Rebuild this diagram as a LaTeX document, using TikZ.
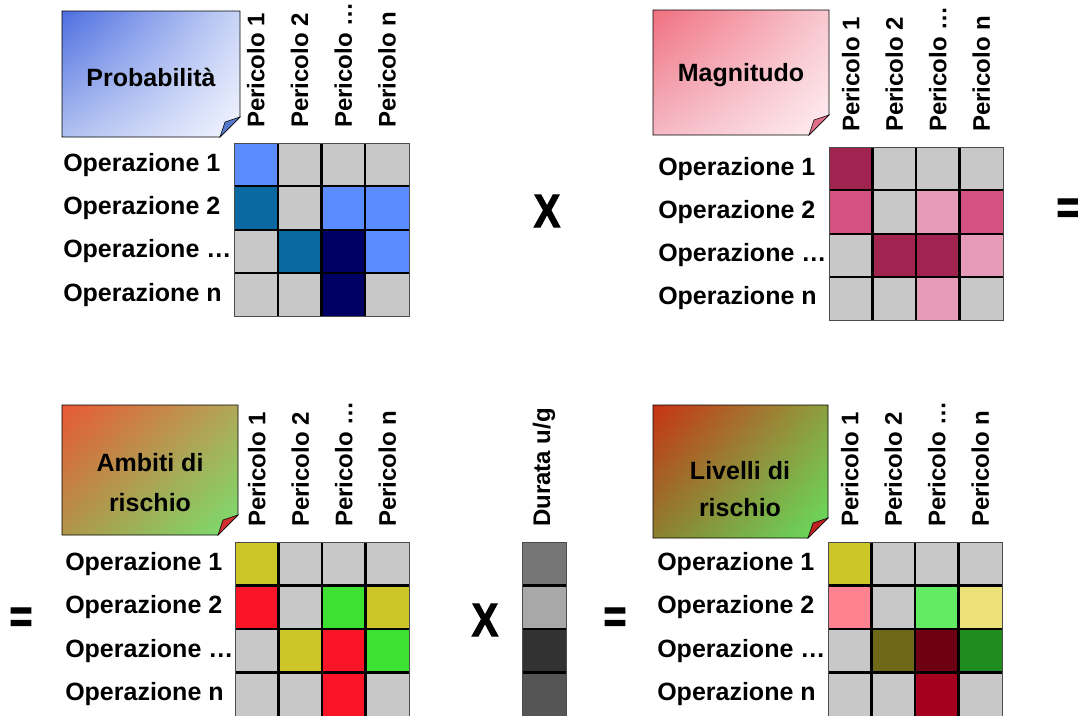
\documentclass[tikz,border=0pt]{standalone}
\usepackage{fontspec}
\setmainfont{Liberation Sans}
\newfontfamily\signfont{Liberation Sans Bold}[FakeBold=2.5]
\usepackage{xcolor}
\usepackage{tikz}
\usetikzlibrary{positioning,shadings}

\definecolor{cellgray}{RGB}{200,200,200}
\definecolor{bluelt}{RGB}{90,140,255}
\definecolor{bluemd}{RGB}{10,105,160}
\definecolor{bluedk}{RGB}{0,0,100}
\definecolor{rosedk}{RGB}{160,35,80}
\definecolor{rosemd}{RGB}{212,82,128}
\definecolor{roselt}{RGB}{230,155,185}
\definecolor{yelrisk}{RGB}{205,198,40}
\definecolor{redrisk}{RGB}{250,20,40}
\definecolor{grnrisk}{RGB}{60,225,50}
\definecolor{pinklv}{RGB}{255,130,145}
\definecolor{grnlt}{RGB}{100,235,100}
\definecolor{yellt}{RGB}{235,225,120}
\definecolor{olivedk}{RGB}{110,105,25}
\definecolor{reddk}{RGB}{110,0,20}
\definecolor{grndk}{RGB}{30,140,30}
\definecolor{redmd}{RGB}{165,0,30}
\definecolor{durA}{RGB}{118,118,118}
\definecolor{durB}{RGB}{168,168,168}
\definecolor{durC}{RGB}{50,50,50}
\definecolor{durD}{RGB}{85,85,85}
% note fills
\definecolor{probUL}{RGB}{77,110,224}
\definecolor{probUR}{RGB}{200,212,246}
\definecolor{probLL}{RGB}{176,192,240}
\definecolor{probLR}{RGB}{244,246,255}
\definecolor{probF}{RGB}{85,119,204}
\definecolor{magnUL}{RGB}{240,112,128}
\definecolor{magnUR}{RGB}{248,200,208}
\definecolor{magnLL}{RGB}{244,184,196}
\definecolor{magnLR}{RGB}{255,240,244}
\definecolor{magnF}{RGB}{224,112,138}
\definecolor{ambUL}{RGB}{232,88,52}
\definecolor{ambUR}{RGB}{176,168,88}
\definecolor{ambLL}{RGB}{176,150,72}
\definecolor{ambLR}{RGB}{120,224,112}
\definecolor{ambF}{RGB}{208,48,48}
\definecolor{livUL}{RGB}{200,50,20}
\definecolor{livUR}{RGB}{140,160,64}
\definecolor{livLL}{RGB}{140,128,48}
\definecolor{livLR}{RGB}{102,224,96}
\definecolor{livF}{RGB}{192,32,32}

\begin{document}
\begin{tikzpicture}[x=0.75pt,y=-0.75pt,
  lbl/.style={font=\bfseries\fontsize{18.75}{22.5}\selectfont, inner sep=0pt},
  oplbl/.style={lbl, anchor=west},
  hdlbl/.style={lbl, font=\bfseries\fontsize{18}{22}\selectfont, rotate=90, anchor=west},
  sign/.style={font=\signfont\fontsize{35}{35}\selectfont, inner sep=0pt, xscale=0.85},
  gridline/.style={line width=1.6pt},
  frame/.style={draw=black!70, line width=0.6pt},
  note/.style={draw=black, line width=0.6pt},
  fold/.style={draw=black, line width=0.4pt}]
  \useasboundingbox (0,0) rectangle (1078,715);

  % Probabilita
  \shade[note, upper left=probUL, upper right=probUR, lower left=probLL, lower right=probLR]
    (62,11) -- (240,11) -- (240,117) -- (220,137) -- (62,137) -- cycle;
  \filldraw[fold, fill=probF] (240,117) -- (220,137) -- (225,122) -- cycle;
  \node[lbl] (prob) at (151,77) {Probabilità};
  \begin{scope}[shift={(234,143)}]
    \foreach \cells [count=\r from 0] in {{bluelt,cellgray,cellgray,cellgray},{bluemd,cellgray,bluelt,bluelt},
        {cellgray,bluemd,bluedk,bluelt},{cellgray,cellgray,bluedk,cellgray}}
      \foreach \c [count=\k from 0] in \cells
        \fill[\c] (\k*43.75,\r*43.4) rectangle ++(43.75,43.4);
    \draw[gridline] \foreach \k in {1,2,3} {(\k*43.75,0) -- ++(0,173.6) (0,\k*43.4) -- ++(175,0)};
    \draw[frame] (0,0) rectangle (175,173.6);
    \foreach \t [count=\r from 0] in {Operazione 1,Operazione 2,Operazione \ldots,Operazione n}
      \node[oplbl] (probop\r) at (-171,21.7+\r*43.4) {\t};
    \foreach \t [count=\k from 0] in {Pericolo 1,Pericolo 2,Pericolo …,Pericolo n}
      \node[hdlbl] (probhd\k) at (21.9+\k*43.75,-15) {\t};
  \end{scope}

  \node[sign] (times1) at (547,211) {X};

  % Magnitudo
  \shade[note, upper left=magnUL, upper right=magnUR, lower left=magnLL, lower right=magnLR]
    (653,10) -- (829,10) -- (829,115) -- (809,135) -- (653,135) -- cycle;
  \filldraw[fold, fill=magnF] (829,115) -- (809,135) -- (814,120) -- cycle;
  \node[lbl] (magn) at (741,75) {Magnitudo};
  \begin{scope}[shift={(829,147)}]
    \foreach \cells [count=\r from 0] in {{rosedk,cellgray,cellgray,cellgray},{rosemd,cellgray,roselt,rosemd},
        {cellgray,rosedk,rosedk,roselt},{cellgray,cellgray,roselt,cellgray}}
      \foreach \c [count=\k from 0] in \cells
        \fill[\c] (\k*43.5,\r*43.3) rectangle ++(43.5,43.3);
    \draw[gridline] \foreach \k in {1,2,3} {(\k*43.5,0) -- ++(0,173.2) (0,\k*43.3) -- ++(174,0)};
    \draw[frame] (0,0) rectangle (174,173.2);
    \foreach \t [count=\r from 0] in {Operazione 1,Operazione 2,Operazione \ldots,Operazione n}
      \node[oplbl] (magnop\r) at (-171,21.6+\r*43.3) {\t};
    \foreach \t [count=\k from 0] in {Pericolo 1,Pericolo 2,Pericolo …,Pericolo n}
      \node[hdlbl] (magnhd\k) at (21.7+\k*43.5,-15) {\t};
  \end{scope}

  \node[sign] (eq1) at (1068,211) {=};

  % Ambiti di rischio
  \node[sign] (eq2) at (21,620) {=};
  \shade[note, upper left=ambUL, upper right=ambUR, lower left=ambLL, lower right=ambLR]
    (62,405) -- (238,405) -- (238,515) -- (218,535) -- (62,535) -- cycle;
  \filldraw[fold, fill=ambF] (238,515) -- (218,535) -- (223,520) -- cycle;
  \node[lbl, align=center, font=\bfseries\fontsize{18.75}{30}\selectfont] (ambiti) at (150,483) {Ambiti di\\rischio};
  \begin{scope}[shift={(235,542)}]
    \foreach \cells [count=\r from 0] in {{yelrisk,cellgray,cellgray,cellgray},{redrisk,cellgray,grnrisk,yelrisk},
        {cellgray,yelrisk,redrisk,grnrisk},{cellgray,cellgray,redrisk,cellgray}}
      \foreach \c [count=\k from 0] in \cells
        \fill[\c] (\k*43.5,\r*43.5) rectangle ++(43.5,43.5);
    \draw[gridline] \foreach \k in {1,2,3} {(\k*43.5,0) -- ++(0,174) (0,\k*43.5) -- ++(174,0)};
    \draw[frame] (0,0) rectangle (174,174);
    \foreach \t [count=\r from 0] in {Operazione 1,Operazione 2,Operazione \ldots,Operazione n}
      \node[oplbl] (ambop\r) at (-170,21.7+\r*43.5) {\t};
    \foreach \t [count=\k from 0] in {Pericolo 1,Pericolo 2,Pericolo …,Pericolo n}
      \node[hdlbl] (ambhd\k) at (21.7+\k*43.5,-15) {\t};
  \end{scope}

  % Durata
  \node[sign] (times2) at (485,620) {X};
  \begin{scope}[shift={(522,542)}]
    \foreach \c [count=\r from 0] in {durA,durB,durC,durD}
      \fill[\c] (0,\r*43.5) rectangle ++(44,43.5);
    \draw[gridline] \foreach \r in {1,2,3} {(0,\r*43.5) -- ++(44,0)};
    \draw[frame] (0,0) rectangle (44,174);
    \node[hdlbl] (durata) at (22,-15) {Durata u/g};
  \end{scope}
  \node[sign] (eq3) at (615,620) {=};

  % Livelli di rischio
  \shade[note, upper left=livUL, upper right=livUR, lower left=livLL, lower right=livLR]
    (653,405) -- (828,405) -- (828,518) -- (808,538) -- (653,538) -- cycle;
  \filldraw[fold, fill=livF] (828,518) -- (808,538) -- (813,523) -- cycle;
  \node[lbl, align=center, font=\bfseries\fontsize{18.75}{28}\selectfont] (livelli) at (740,489) {Livelli di\\rischio};
  \begin{scope}[shift={(828,542)}]
    \foreach \cells [count=\r from 0] in {{yelrisk,cellgray,cellgray,cellgray},{pinklv,cellgray,grnlt,yellt},
        {cellgray,olivedk,reddk,grndk},{cellgray,cellgray,redmd,cellgray}}
      \foreach \c [count=\k from 0] in \cells
        \fill[\c] (\k*43.5,\r*43.5) rectangle ++(43.5,43.5);
    \draw[gridline] \foreach \k in {1,2,3} {(\k*43.5,0) -- ++(0,174) (0,\k*43.5) -- ++(174,0)};
    \draw[frame] (0,0) rectangle (174,174);
    \foreach \t [count=\r from 0] in {Operazione 1,Operazione 2,Operazione \ldots,Operazione n}
      \node[oplbl] (livop\r) at (-171,21.7+\r*43.5) {\t};
    \foreach \t [count=\k from 0] in {Pericolo 1,Pericolo 2,Pericolo …,Pericolo n}
      \node[hdlbl] (livhd\k) at (21.7+\k*43.5,-15) {\t};
  \end{scope}
\end{tikzpicture}
\end{document}
